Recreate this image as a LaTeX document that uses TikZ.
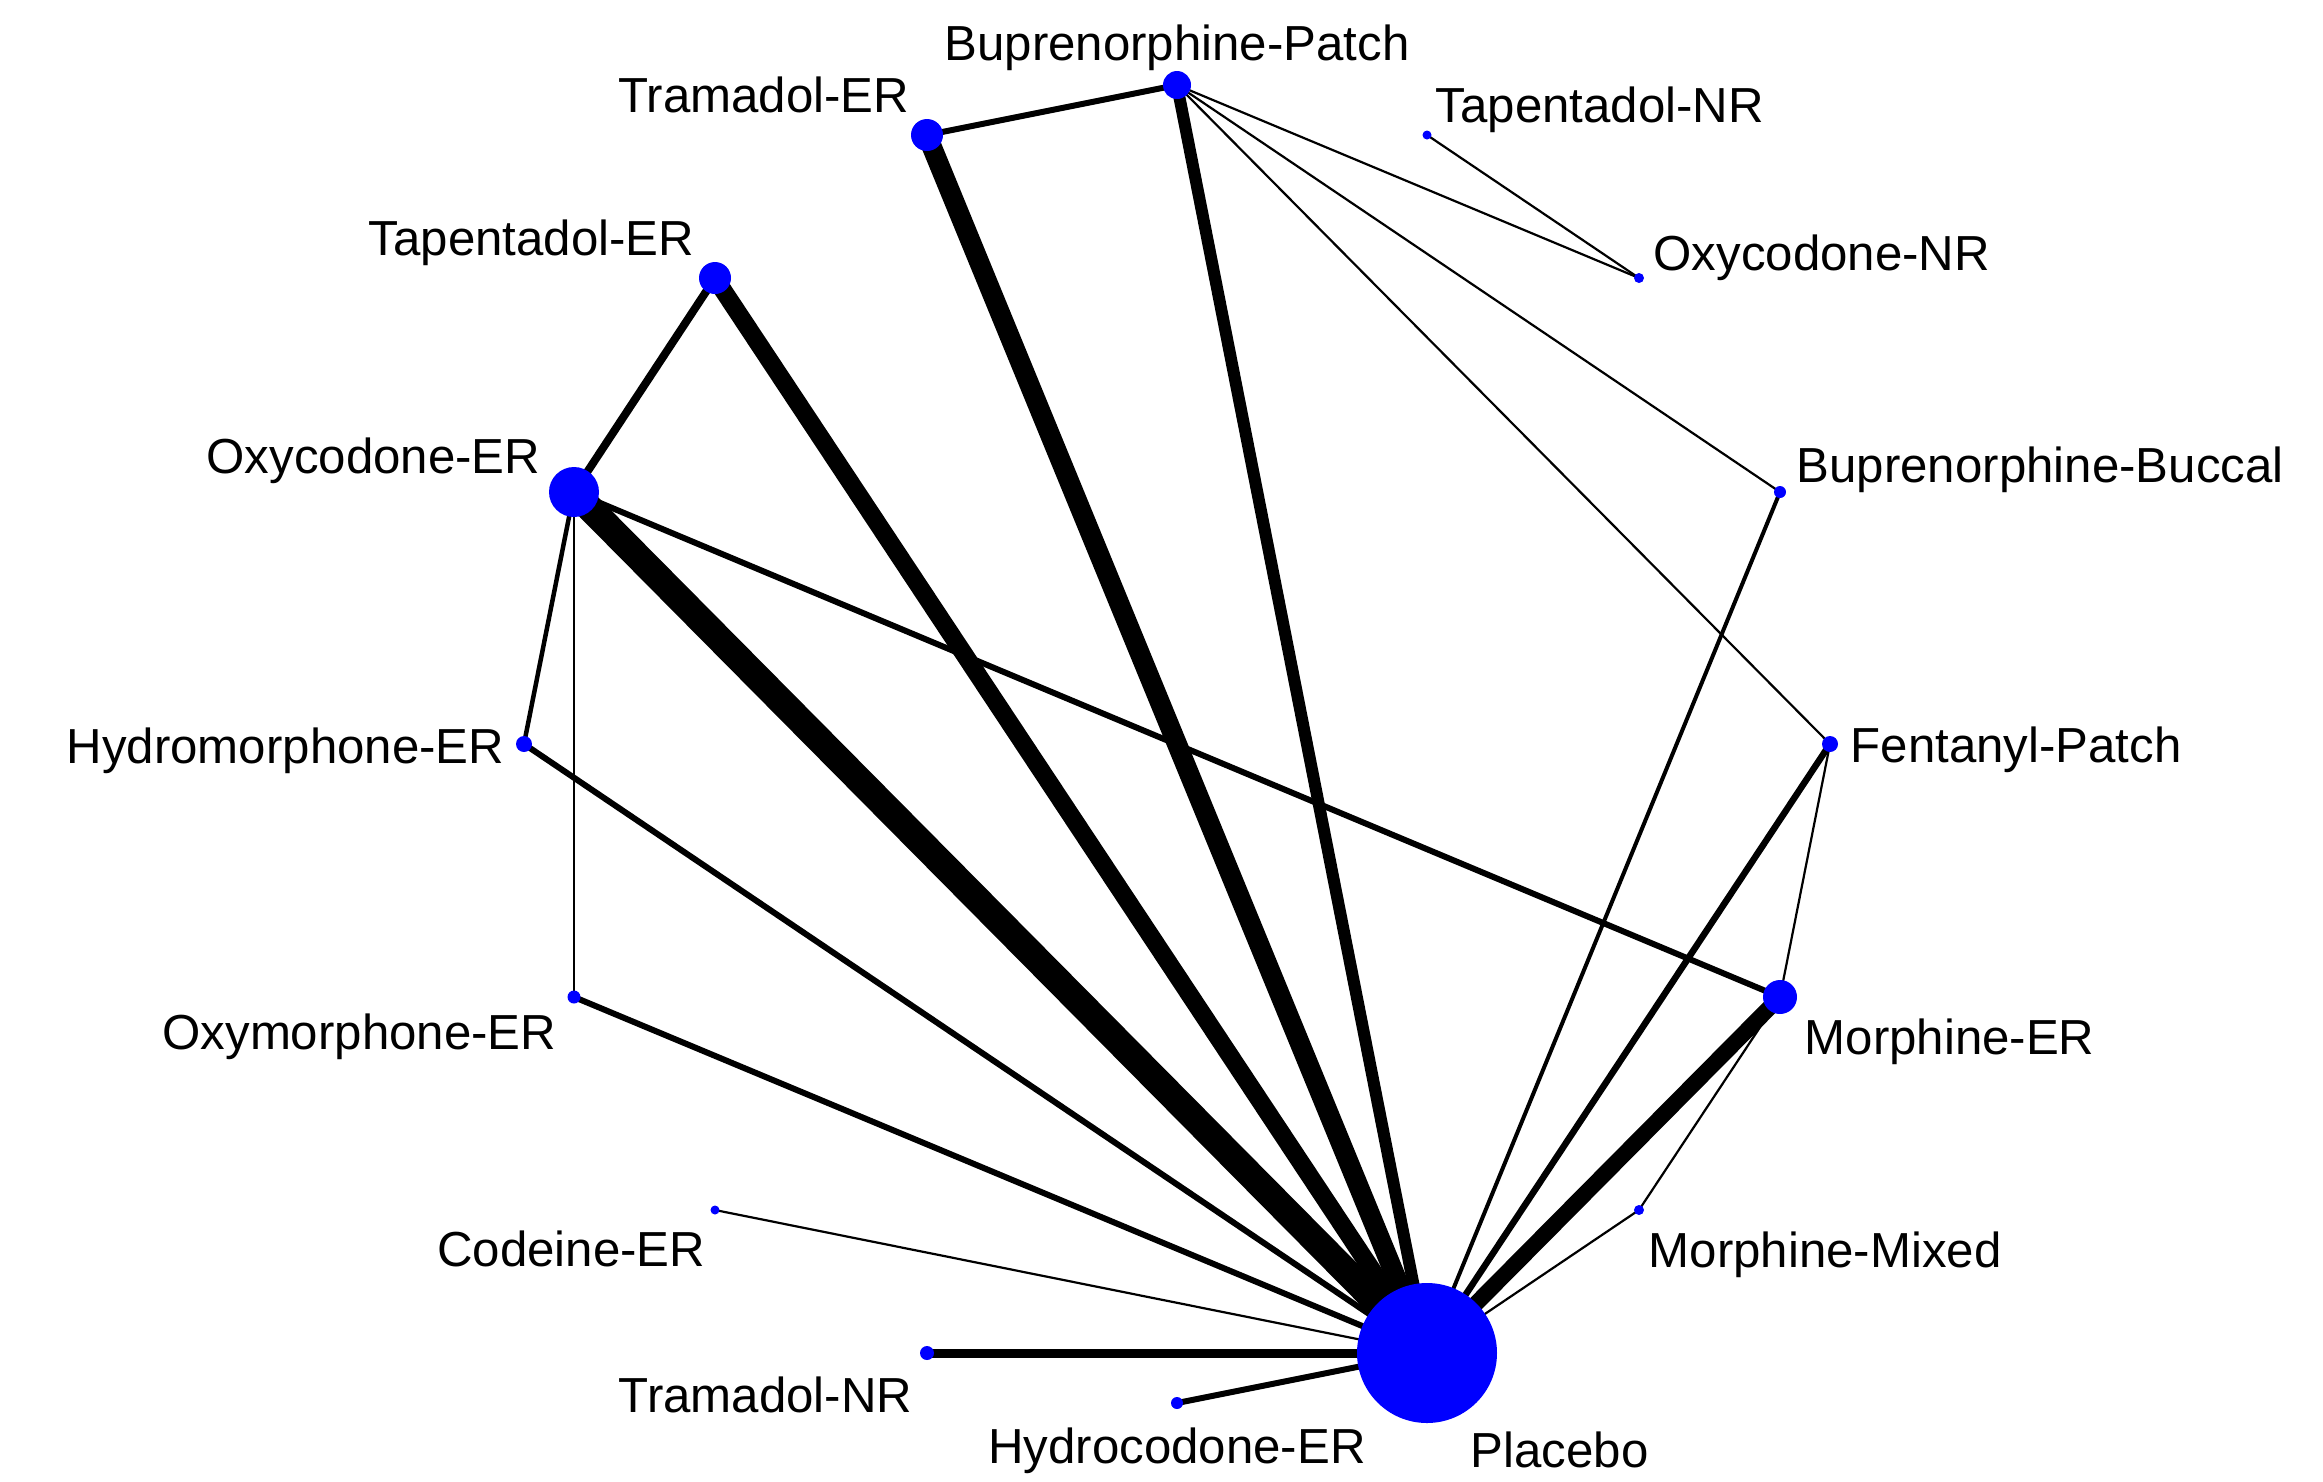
\documentclass[tikz,border=0pt]{standalone}
\usepackage{fontspec}
\setmainfont{Liberation Sans}
\usetikzlibrary{backgrounds}

\begin{document}
\begin{tikzpicture}[
    x=0.1mm, y=-0.1mm,
    drug/.style={circle, fill=blue, inner sep=0pt, minimum size=#1},
    lab/.style={font=\fontsize{14}{16}\selectfont, inner sep=0pt},
    link/.style={line width=#1}
]
\useasboundingbox (0,0) rectangle (2323,1481);

% treatments (node size ~ number of patients)
\node[drug=14mm]  (placebo)  at (1427,1353) {};
\node[drug=2.8mm] (bupP)     at (1177,85)   {};
\node[drug=3.2mm] (tramER)   at (927,135)   {};
\node[drug=0.9mm] (tapNR)    at (1427,135)  {};
\node[drug=3.2mm] (tapER)    at (715,278)   {};
\node[drug=1mm]   (oxyNR)    at (1639,278)  {};
\node[drug=5mm]   (oxyER)    at (574,492)   {};
\node[drug=1.2mm] (bupB)     at (1780,492)  {};
\node[drug=1.6mm] (hydroER)  at (524,744)   {};
\node[drug=1.6mm] (fentP)    at (1830,744)  {};
\node[drug=1.3mm] (oxymER)   at (574,997)   {};
\node[drug=3.4mm] (morphER)  at (1780,997)  {};
\node[drug=0.9mm] (codER)    at (715,1210)  {};
\node[drug=1mm]   (morphMix) at (1639,1210) {};
\node[drug=1.4mm] (tramNR)   at (927,1353)  {};
\node[drug=1.2mm] (hcodER)   at (1177,1403) {};

% labels
\node[lab, anchor=base]      (l-bupP)     at (1177,60)   {Buprenorphine-Patch};
\node[lab, anchor=base east] (l-tramER)   at (910,112)   {Tramadol-ER};
\node[lab, anchor=base west] (l-tapNR)    at (1435,122)  {Tapentadol-NR};
\node[lab, anchor=base east] (l-tapER)    at (695,255)   {Tapentadol-ER};
\node[lab, anchor=base west] (l-oxyNR)    at (1653,270)  {Oxycodone-NR};
\node[lab, anchor=base east] (l-oxyER)    at (541,473)   {Oxycodone-ER};
\node[lab, anchor=base west] (l-bupB)     at (1796,482)  {Buprenorphine-Buccal};
\node[lab, anchor=base east] (l-hydroER)  at (505,763)   {Hydromorphone-ER};
\node[lab, anchor=base west] (l-fentP)    at (1850,762)  {Fentanyl-Patch};
\node[lab, anchor=base east] (l-oxymER)   at (557,1049)  {Oxymorphone-ER};
\node[lab, anchor=base west] (l-morphER)  at (1804,1054) {Morphine-ER};
\node[lab, anchor=base east] (l-codER)    at (706,1266)  {Codeine-ER};
\node[lab, anchor=base west] (l-morphMix) at (1648,1267) {Morphine-Mixed};
\node[lab, anchor=base east] (l-tramNR)   at (913,1412)  {Tramadol-NR};
\node[lab, anchor=base]      (l-hcodER)   at (1177,1463) {Hydrocodone-ER};
\node[lab, anchor=base west] (l-placebo)  at (1470,1467) {Placebo};

% comparisons (width ~ number of trials)
\begin{scope}[on background layer]
\draw[link=2.7mm]  (oxyER.center)    -- (placebo.center);
\draw[link=2mm]    (tramER.center)   -- (placebo.center);
\draw[link=1.8mm]  (tapER.center)    -- (placebo.center);
\draw[link=1.6mm]  (morphER.center)  -- (placebo.center);
\draw[link=1.2mm]  (bupP.center)     -- (placebo.center);
\draw[link=0.9mm]  (tramNR.center)   -- (placebo.center);
\draw[link=0.65mm] (fentP.center)    -- (placebo.center);
\draw[link=0.6mm]  (hydroER.center)  -- (placebo.center);
\draw[link=0.6mm]  (oxymER.center)   -- (placebo.center);
\draw[link=0.6mm]  (hcodER.center)   -- (placebo.center);
\draw[link=0.4mm]  (bupB.center)     -- (placebo.center);
\draw[link=0.22mm] (codER.center)    -- (placebo.center);
\draw[link=0.22mm] (morphMix.center) -- (placebo.center);
\draw[link=0.6mm]  (bupP.center)     -- (tramER.center);
\draw[link=0.22mm] (bupP.center)     -- (oxyNR.center);
\draw[link=0.22mm] (bupP.center)     -- (bupB.center);
\draw[link=0.22mm] (bupP.center)     -- (fentP.center);
\draw[link=0.22mm] (tapNR.center)    -- (oxyNR.center);
\draw[link=0.8mm]  (tapER.center)    -- (oxyER.center);
\draw[link=0.6mm]  (oxyER.center)    -- (morphER.center);
\draw[link=0.45mm] (oxyER.center)    -- (hydroER.center);
\draw[link=0.22mm] (oxyER.center)    -- (oxymER.center);
\draw[link=0.22mm] (fentP.center)    -- (morphER.center);
\draw[link=0.22mm] (morphMix.center) -- (morphER.center);
\end{scope}

\end{tikzpicture}
\end{document}
